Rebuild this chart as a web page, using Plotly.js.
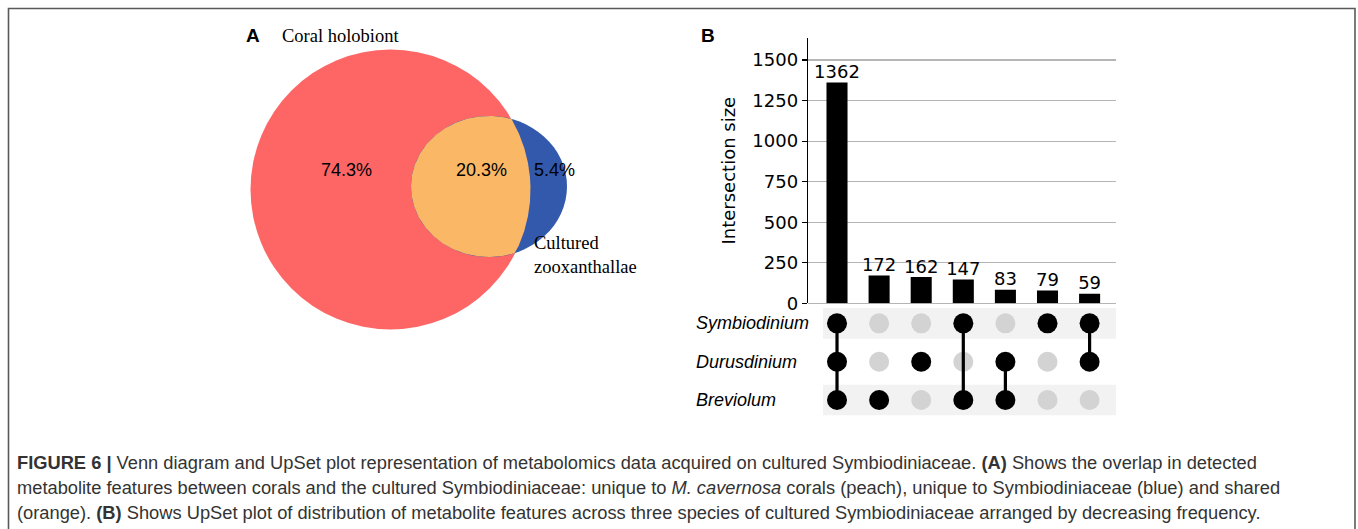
<!DOCTYPE html>
<html>
<head>
<meta charset="utf-8">
<script src="https://cdn.plot.ly/plotly-3.0.1.min.js"></script>
<style>html,body{margin:0;padding:0;background:#fff;}#chart{width:1358px;height:529px;}</style>
</head>
<body>
<div id="chart"></div>
<script>
// ---------------- DATA ----------------
const vennSetLabels = ['Coral holobiont', 'Cultured<br>zooxanthallae'];
const vennRegionLabels = ['74.3%', '20.3%', '5.4%'];   // coral only, shared, cultured only
const intersectionSizes = [1362, 172, 162, 147, 83, 79, 59];
const setNames = ['Symbiodinium', 'Durusdinium', 'Breviolum'];
// membership per intersection column, order = setNames
const membership = [
  [1, 1, 1],
  [0, 0, 1],
  [0, 1, 0],
  [1, 0, 1],
  [0, 1, 1],
  [1, 0, 0],
  [1, 1, 0]
];
const yTickValues = [0, 250, 500, 750, 1000, 1250, 1500];
const captionLines = [
  '<b>FIGURE 6 |</b> Venn diagram and UpSet plot representation of metabolomics data acquired on cultured Symbiodiniaceae. <b>(A)</b> Shows the overlap in detected',
  'metabolite features between corals and the cultured Symbiodiniaceae: unique to <i>M. cavernosa</i> corals (peach), unique to Symbiodiniaceae (blue) and shared',
  '(orange). <b>(B)</b> Shows UpSet plot of distribution of metabolite features across three species of cultured Symbiodiniaceae arranged by decreasing frequency.'
];

// ---------------- LAYOUT HELPERS ----------------
const W = 1358, H = 529;
const px = v => v / W;
const py = v => 1 - v / H;

// Venn geometry (drawing space in pixels of the venn sub-axes)
const red = {cx: 390.5, cy: 189.5, r: 140};
const blue = {cx: 489, cy: 186.5, rx: 78, ry: 70.5};
const COL_RED = '#FE6666', COL_BLUE = '#3259AB', COL_ORANGE = '#FAB866';

// lens polygon (intersection) — star-shaped about blue centre
const lensX = [], lensY = [];
for (let i = 0; i <= 360; i++) {
  const t = i * Math.PI / 180;
  const dx = Math.cos(t), dy = Math.sin(t);
  const sE = 1 / Math.sqrt((dx / blue.rx) ** 2 + (dy / blue.ry) ** 2);
  const wx = blue.cx - red.cx, wy = blue.cy - red.cy;
  const b = wx * dx + wy * dy;
  const c = wx * wx + wy * wy - red.r * red.r;
  const sR = -b + Math.sqrt(b * b - c);
  const s = Math.min(sE, sR);
  lensX.push(blue.cx + s * dx);
  lensY.push(blue.cy + s * dy);
}

const rowOf = idx => setNames.length - 1 - idx; // Symbiodinium on top
const cols = intersectionSizes.map((_, i) => i);

const traces = [];
// Venn lens
traces.push({
  type: 'scatter', x: lensX, y: lensY, xaxis: 'x3', yaxis: 'y3',
  mode: 'lines', fill: 'toself', fillcolor: COL_ORANGE,
  line: {width: 0, color: COL_ORANGE}, hoverinfo: 'skip', showlegend: false
});
// Bars
traces.push({
  type: 'bar', x: cols, y: intersectionSizes, xaxis: 'x', yaxis: 'y',
  width: 0.5, marker: {color: '#000000'}, showlegend: false, hoverinfo: 'skip'
});
// Bar value labels
traces.push({
  type: 'scatter', mode: 'text', x: cols, y: intersectionSizes, xaxis: 'x', yaxis: 'y',
  text: intersectionSizes.map(String), textposition: 'top center',
  textfont: {family: 'DejaVu Sans', size: 18, color: '#000'},
  cliponaxis: false, showlegend: false, hoverinfo: 'skip'
});
// Matrix: inactive dots
const inX = [], inY = [], acX = [], acY = [];
membership.forEach((m, ci) => m.forEach((v, si) => {
  if (v) { acX.push(ci); acY.push(rowOf(si)); } else { inX.push(ci); inY.push(rowOf(si)); }
}));
traces.push({
  type: 'scatter', mode: 'markers', x: inX, y: inY, xaxis: 'x2', yaxis: 'y2',
  marker: {size: 20, color: '#d3d3d3'}, showlegend: false, hoverinfo: 'skip'
});
// Matrix: connecting lines
membership.forEach((m, ci) => {
  const rows = m.map((v, si) => v ? rowOf(si) : null).filter(v => v !== null);
  if (rows.length > 1) {
    traces.push({
      type: 'scatter', mode: 'lines', x: [ci, ci], y: [Math.min(...rows), Math.max(...rows)],
      xaxis: 'x2', yaxis: 'y2', line: {color: '#000', width: 3.2},
      showlegend: false, hoverinfo: 'skip'
    });
  }
});
traces.push({
  type: 'scatter', mode: 'markers', x: acX, y: acY, xaxis: 'x2', yaxis: 'y2',
  marker: {size: 20, color: '#000'}, showlegend: false, hoverinfo: 'skip'
});

// ---------------- LAYOUT ----------------
const xRange = [-0.689, 6.627];
const xDom = [px(808), px(1116)];
const shapes = [
  // figure border
  {type: 'rect', xref: 'paper', yref: 'paper', x0: px(8.5), x1: px(1355), y0: -0.2, y1: py(8.5),
   line: {color: '#5a5a5a', width: 1.6}, fillcolor: 'rgba(0,0,0,0)', layer: 'below'},
  // venn circles
  {type: 'circle', xref: 'x3', yref: 'y3', x0: red.cx - red.r, x1: red.cx + red.r, y0: red.cy - red.r, y1: red.cy + red.r,
   fillcolor: COL_RED, line: {width: 0}, layer: 'below'},
  {type: 'circle', xref: 'x3', yref: 'y3', x0: blue.cx - blue.rx, x1: blue.cx + blue.rx, y0: blue.cy - blue.ry, y1: blue.cy + blue.ry,
   fillcolor: COL_BLUE, line: {width: 0}, layer: 'below'}
];
// matrix row shading (every other row)
setNames.forEach((n, si) => {
  const r = rowOf(si);
  if (r % 2 === 0) {
    shapes.push({type: 'rect', xref: 'x2', yref: 'y2', x0: -0.33, x1: xRange[1], y0: r - 0.4, y1: r + 0.4,
      fillcolor: '#f2f2f2', line: {width: 0}, layer: 'below'});
  }
});

const annotations = [
  {xref: 'paper', yref: 'paper', x: px(244), y: py(36), xanchor: 'left', yanchor: 'middle', showarrow: false,
   text: '<b>A</b>', font: {family: 'Liberation Sans', size: 19, color: '#000'}},
  {xref: 'paper', yref: 'paper', x: px(699), y: py(36), xanchor: 'left', yanchor: 'middle', showarrow: false,
   text: '<b>B</b>', font: {family: 'Liberation Sans', size: 19, color: '#000'}},
  {xref: 'paper', yref: 'paper', x: px(280), y: py(36), xanchor: 'left', yanchor: 'middle', showarrow: false,
   text: vennSetLabels[0], font: {family: 'Liberation Serif', size: 18.5, color: '#000'}},
  {xref: 'paper', yref: 'paper', x: px(532), y: py(255), xanchor: 'left', yanchor: 'middle', showarrow: false, align: 'left',
   text: vennSetLabels[1], font: {family: 'Liberation Serif', size: 18.5, color: '#000'}},
  {xref: 'x3', yref: 'y3', x: 346, y: 170, showarrow: false, text: vennRegionLabels[0],
   font: {family: 'Liberation Sans', size: 18, color: '#000'}},
  {xref: 'x3', yref: 'y3', x: 481, y: 170, showarrow: false, text: vennRegionLabels[1],
   font: {family: 'Liberation Sans', size: 18, color: '#000'}},
  {xref: 'x3', yref: 'y3', x: 554, y: 170, showarrow: false, text: vennRegionLabels[2],
   font: {family: 'Liberation Sans', size: 18, color: '#000'}}
];
// matrix row labels, left aligned
setNames.forEach((n, si) => {
  annotations.push({xref: 'paper', yref: 'y2', x: px(694), y: rowOf(si), xanchor: 'left', yanchor: 'middle',
    showarrow: false, text: '<i>' + n + '</i>', font: {family: 'Liberation Sans', size: 18, color: '#000'}});
});
captionLines.forEach((t, i) => {
  annotations.push({xref: 'paper', yref: 'paper', x: px(15), y: py(462 + i * 25), xanchor: 'left', yanchor: 'middle',
    showarrow: false, align: 'left', text: t,
    font: {family: 'Liberation Sans', size: 18.3, color: '#333'}});
});

const layout = {
  width: W, height: H, margin: {l: 0, r: 0, t: 0, b: 0},
  paper_bgcolor: '#fff', plot_bgcolor: 'rgba(0,0,0,0)', showlegend: false,
  xaxis: {domain: xDom, range: xRange, anchor: 'y', showticklabels: false, showgrid: false, zeroline: false,
    showline: false, ticks: '', fixedrange: true},
  yaxis: {domain: [py(303.3), py(38)], range: [0, 1636], anchor: 'x', tickvals: yTickValues,
    showline: true, linecolor: '#000', linewidth: 1.3, ticks: 'outside', ticklen: 5, tickwidth: 1.2, tickcolor: '#000',
    showgrid: true, gridcolor: '#b5b5b5', gridwidth: 1.2, zeroline: true, zerolinecolor: '#b5b5b5', zerolinewidth: 1.2,
    tickfont: {family: 'DejaVu Sans', size: 18, color: '#000'},
    title: {text: 'Intersection size', font: {family: 'DejaVu Sans', size: 18, color: '#000'}, standoff: 12},
    fixedrange: true},
  xaxis2: {domain: xDom, range: xRange, anchor: 'y2', visible: false, fixedrange: true},
  yaxis2: {domain: [py(419.2), py(304.2)], range: [-0.5, 2.5], anchor: 'x2',
    showticklabels: false, showgrid: false, zeroline: false, showline: false, ticks: '', fixedrange: true},
  xaxis3: {domain: [px(240), px(600)], range: [240, 600], anchor: 'y3', visible: false, fixedrange: true},
  yaxis3: {domain: [py(340), py(40)], range: [340, 40], anchor: 'x3', visible: false, fixedrange: true},
  shapes: shapes,
  annotations: annotations
};

Plotly.newPlot('chart', traces, layout, {staticPlot: true, displayModeBar: false});
</script>
</body>
</html>
